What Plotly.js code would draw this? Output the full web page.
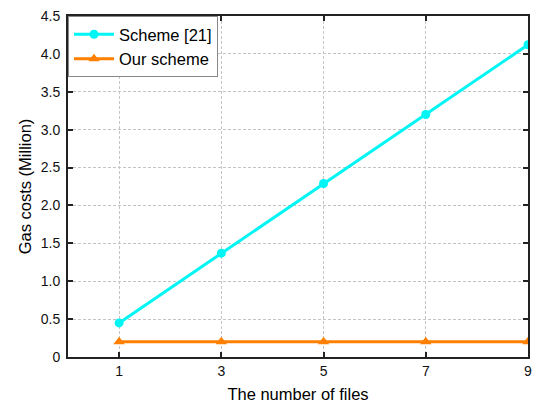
<!DOCTYPE html>
<html>
<head>
<meta charset="utf-8">
<script src="https://cdn.plot.ly/plotly-3.0.1.min.js"></script>
<style>html,body{margin:0;padding:0;background:#fff;}</style>
</head>
<body>
<div id="chart" style="width:543px;height:405px;"></div>
<script>
var files = [1, 3, 5, 7, 9];
var scheme21 = [0.45, 1.37, 2.29, 3.20, 4.12];
var ourScheme = [0.20, 0.20, 0.20, 0.20, 0.20];
var seriesNames = ["Scheme [21]", "Our scheme"];
var xTicks = [1, 3, 5, 7, 9];
var yTicks = [0, 0.5, 1.0, 1.5, 2.0, 2.5, 3.0, 3.5, 4.0, 4.5];
var yTickLabels = ["0", "0.5", "1.0", "1.5", "2.0", "2.5", "3.0", "3.5", "4.0", "4.5"];

var traces = [
  {x: files, y: scheme21, name: seriesNames[0], mode: "lines+markers",
   line: {color: "#00F5F5", width: 3}, marker: {symbol: "circle", size: 9, color: "#00F5F5"}},
  {x: files, y: ourScheme, name: seriesNames[1], mode: "lines+markers",
   line: {color: "#FF8000", width: 3}, marker: {symbol: "triangle-up", size: 10, color: "#FF8000"}}
];

var font = "Liberation Sans, Arial, sans-serif";
var layout = {
  width: 543, height: 405,
  margin: {l: 68, r: 15, t: 16, b: 48},
  paper_bgcolor: "#fff", plot_bgcolor: "#fff",
  font: {family: font, color: "#111"},
  showlegend: true,
  legend: {x: 0, y: 1, xanchor: "left", yanchor: "top", bgcolor: "#fff",
           bordercolor: "#888", borderwidth: 1, font: {size: 16.5, family: font, color: "#000"},
           tracegroupgap: 0, itemwidth: 40},
  xaxis: {range: [0, 9], tickvals: xTicks, ticktext: xTicks.map(String),
          showline: true, linecolor: "#222", linewidth: 2, mirror: "ticks",
          ticks: "inside", ticklen: 5, tickwidth: 2, tickcolor: "#222",
          showgrid: true, gridcolor: "#c4c4c4", griddash: "3px,2px", gridwidth: 1,
          zeroline: false, tickfont: {size: 14, family: font},
          title: {text: "The number of files", font: {size: 16.5, family: font, color: "#000"}, standoff: 11}},
  yaxis: {range: [0, 4.5], tickvals: yTicks, ticktext: yTickLabels,
          showline: true, linecolor: "#222", linewidth: 2, mirror: "ticks",
          ticks: "inside", ticklen: 5, tickwidth: 2, tickcolor: "#222",
          showgrid: true, gridcolor: "#c4c4c4", griddash: "3px,2px", gridwidth: 1,
          zeroline: false, tickfont: {size: 14, family: font}, ticklabelstandoff: 3,
          title: {text: "Gas costs (Million)", font: {size: 16.5, family: font, color: "#000"}, standoff: 5}}
};

Plotly.newPlot("chart", traces, layout, {displayModeBar: false, staticPlot: true});
</script>
</body>
</html>
